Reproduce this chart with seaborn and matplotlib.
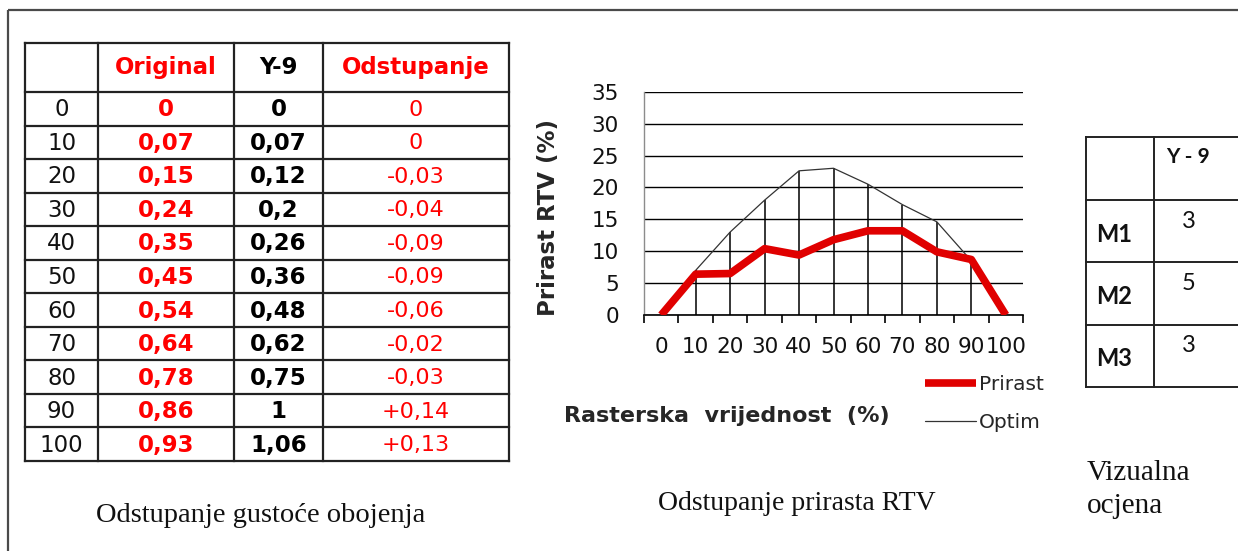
import numpy as np
import pandas as pd
import matplotlib
matplotlib.use("Agg")
import matplotlib.pyplot as plt
import seaborn as sns

# ---- density table -------------------------------------------------------
raster = [0, 10, 20, 30, 40, 50, 60, 70, 80, 90, 100]
original = [0, 0.07, 0.15, 0.24, 0.35, 0.45, 0.54, 0.64, 0.78, 0.86, 0.93]
y9 = [0, 0.07, 0.12, 0.2, 0.26, 0.36, 0.48, 0.62, 0.75, 1, 1.06]
odstupanje = [0, 0, -0.03, -0.04, -0.09, -0.09, -0.06, -0.02, -0.03, 0.14, 0.13]
table_header = ["", "Original", "Y-9", "Odstupanje"]

# ---- dot gain curves -----------------------------------------------------
prirast = [0, 6.4, 6.5, 10.4, 9.4, 11.8, 13.2, 13.2, 9.9, 8.7, 0]
optim = [0, 7.0, 13.0, 18.0, 22.6, 23.0, 20.5, 17.3, 14.6, 8.5, 0]

# ---- visual grades -------------------------------------------------------
samples = ["M1", "M2", "M3"]
ocjena = [3, 5, 3]
grade_header = "Y - 9"

sns.set_style("white")
plt.rcParams["font.family"] = ["DejaVu Sans"]

W, H = 1238, 551
fig = plt.figure(figsize=(W / 100, H / 100), dpi=100)
fig.patch.set_facecolor("white")

RED = "#ff0000"
LINE = "#222222"


def px_axes(left, top, right, bottom, **kw):
    return fig.add_axes([left / W, 1 - bottom / H, (right - left) / W, (bottom - top) / H], **kw)


def fmt(v):
    return f"{v:g}".replace(".", ",")


def fmt_dev(v):
    return "0" if v == 0 else f"{v:+g}".replace(".", ",")


# ---- page frame and captions ---------------------------------------------
page = px_axes(0, 0, W, H, zorder=0)
page.set_xlim(0, W)
page.set_ylim(H, 0)
page.axis("off")
page.plot([8, W + 5], [10, 10], color="#4a4a4a", lw=1.6, solid_capstyle="butt")
page.plot([8, 8], [10, H + 5], color="#4a4a4a", lw=1.6, solid_capstyle="butt")

serif = "Liberation Serif"
page.text(261, 522, "Odstupanje gustoće obojenja", family=serif, fontsize=20.5,
          ha="center", va="baseline", color="#111")
page.text(797, 510, "Odstupanje prirasta RTV", family=serif, fontsize=20,
          ha="center", va="baseline", color="#111")
page.text(1087, 480, "Vizualna", family=serif, fontsize=21,
          ha="left", va="baseline", color="#111")
page.text(1087, 513, "ocjena", family=serif, fontsize=21,
          ha="left", va="baseline", color="#111")

# ---- density table -------------------------------------------------------
tab = px_axes(25, 43, 509, 461)
col_edges = [0, 73, 209, 298, 484]
row_h = 33.55
row_edges = [0, 49] + [49 + row_h * (i + 1) for i in range(len(raster))]
tab.set_xlim(0, col_edges[-1])
tab.set_ylim(row_edges[-1], 0)
tab.axis("off")
for y in row_edges:
    tab.plot([0, col_edges[-1]], [y, y], color=LINE, lw=1.6, clip_on=False,
             solid_capstyle="projecting")
for x in col_edges:
    tab.plot([x, x], [0, row_edges[-1]], color=LINE, lw=1.6, clip_on=False,
             solid_capstyle="projecting")

col_mid = [(a + b) / 2 for a, b in zip(col_edges[:-1], col_edges[1:])]
header_colors = ["black", RED, "black", RED]
for j, name in enumerate(table_header):
    tab.text(col_mid[j], 25, name, ha="center", va="center", fontsize=16.5,
             fontweight="bold", color=header_colors[j])

for i in range(len(raster)):
    yc = (row_edges[i + 1] + row_edges[i + 2]) / 2 + 1
    tab.text(col_mid[0], yc, str(raster[i]), ha="center", va="center",
             fontsize=16.5, color="#111")
    tab.text(col_mid[1], yc, fmt(original[i]), ha="center", va="center",
             fontsize=16.5, fontweight="bold", color=RED)
    tab.text(col_mid[2], yc, fmt(y9[i]), ha="center", va="center",
             fontsize=16.5, fontweight="bold", color="black")
    tab.text(col_mid[3], yc, fmt_dev(odstupanje[i]), ha="center", va="center",
             fontsize=16, color=RED)

# ---- dot gain chart --------------------------------------------------------
ax = px_axes(644, 91.7, 1023, 315)
df = pd.DataFrame({"pos": np.arange(len(raster)), "Prirast": prirast, "Optim": optim})

ax.vlines(df["pos"], 0, np.maximum(df["Prirast"], df["Optim"]), colors="black",
          lw=1.1, zorder=2)
sns.lineplot(data=df, x="pos", y="Prirast", ax=ax, color="#e00000", lw=5.5,
             label="Prirast", zorder=4, solid_capstyle="butt")
sns.lineplot(data=df, x="pos", y="Optim", ax=ax, color="#333333", lw=0.9,
             label="Optim", zorder=3)

ax.set_xlim(-0.5, len(raster) - 0.5)
ax.set_ylim(0, 35)
ax.set_yticks(range(0, 36, 5))
ax.set_xticks(df["pos"])
ax.set_xticklabels([str(r) for r in raster])
ax.set_xticks(np.arange(-0.5, len(raster), 1), minor=True)
ax.yaxis.grid(True, color="black", lw=1.0)
ax.xaxis.grid(False)
ax.set_axisbelow(True)
ax.tick_params(axis="x", which="major", length=0, pad=16, labelsize=15.5, labelcolor="#111")
ax.tick_params(axis="x", which="minor", length=6, width=1.2, color="black",
               direction="out", bottom=True)
ax.tick_params(axis="y", length=0, pad=18, labelsize=15.5, labelcolor="#111")
for s in ["top", "right"]:
    ax.spines[s].set_visible(False)
ax.spines["left"].set_color("#8c8c8c")
ax.spines["left"].set_linewidth(1.0)
ax.spines["bottom"].set_color("black")
ax.spines["bottom"].set_linewidth(1.2)

ax.set_xlabel("Rasterska  vrijednost  (%)", fontsize=16, fontweight="bold",
              va="center", ha="center")
ax.xaxis.set_label_coords((727 - 644) / 379, (315 - 416) / 223.3)
ax.set_ylabel("Prirast RTV (%)", fontsize=16.5, fontweight="bold",
              va="center", ha="center")
ax.yaxis.set_label_coords((548 - 644) / 379, (315 - 217) / 223.3)

ax.legend(loc="upper left", bbox_to_anchor=(925 / W, 1 - 375 / H),
          bbox_transform=fig.transFigure, frameon=False, handlelength=2.55,
          handletextpad=0.12, borderpad=0, borderaxespad=0, labelspacing=0.95,
          fontsize=14.5)

# ---- visual grade table ----------------------------------------------------
gt = px_axes(1086, 137, W, 387)
g_cols = [0, 68]
g_rows = [0, 63, 125, 188, 250]
gt.set_xlim(0, W - 1086)
gt.set_ylim(250, 0)
gt.axis("off")
for y in g_rows:
    gt.plot([0, W - 1086 + 5], [y, y], color=LINE, lw=1.4, clip_on=False,
            solid_capstyle="projecting")
for x in g_cols:
    gt.plot([x, x], [0, 250], color=LINE, lw=1.4, clip_on=False,
            solid_capstyle="projecting")

sans = "Lato"
gt.text(102, 20, grade_header, ha="center", va="center", fontsize=15,
        fontweight="bold", family=sans, color="#111")
for i, (name, val) in enumerate(zip(samples, ocjena)):
    top = g_rows[i + 1]
    gt.text(10.5, top + 34, name, ha="left", va="center", fontsize=17,
            fontweight="bold", family=sans, color="#111")
    gt.text(103, top + 21, str(val), ha="center", va="center", fontsize=17,
            family=sans, color="#111")

fig.savefig("out.png", dpi=100, facecolor="white")
